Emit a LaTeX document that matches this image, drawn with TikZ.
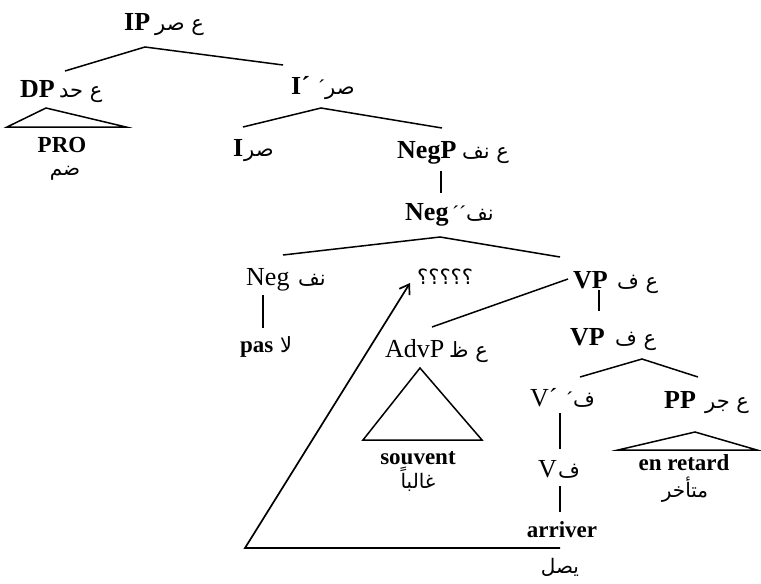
\documentclass[tikz,border=0pt]{standalone}
\usepackage{fontspec}
\setmainfont{Liberation Serif}
\newfontfamily\arabicfont[Script=Arabic]{DejaVu Sans}
\TeXXeTstate=1
\usetikzlibrary{arrows.meta}
\newcommand{\arb}[1]{{\arabicfont\beginR #1\endR}}
\begin{document}
\begin{tikzpicture}[x=1pt,y=-1pt,
  lat/.style={inner sep=0pt,anchor=base west,font=\fontsize{26}{30}\selectfont\bfseries},
  latr/.style={inner sep=0pt,anchor=base west,font=\fontsize{26}{30}\selectfont},
  wrd/.style={inner sep=0pt,anchor=base,font=\fontsize{23}{26}\selectfont\bfseries},
  ara/.style={inner sep=0pt,anchor=base west,font=\fontsize{21}{24}\selectfont},
  arw/.style={inner sep=0pt,anchor=base,font=\fontsize{20}{24}\selectfont},
  br/.style={line width=1.5pt,line join=miter},
  tri/.style={line width=1.5pt,line join=miter}]
\useasboundingbox[fill=white] (0,0) rectangle (761,584);
% labels
\node[lat] (IP) at (124,30) {IP};
\node[ara] (IPa) at (155,30) {\arb{ع صر}};
\node[lat] (DP) at (20,97) {DP};
\node[ara] (DPa) at (59,97) {\arb{ع حد}};
\node[wrd] (PRO) at (62,152) {PRO};
\node[arw] (PROa) at (65,175) {\arb{ضم}};
\node[lat] (Ib) at (291,94) {I´};
\node[ara] (Iba) at (318,94) {´\arb{صر}};
\node[lat] (I) at (233,156) {I};
\node[ara] (Ia) at (244,156) {\arb{صر}};
\node[lat] (NegP) at (397,158) {NegP};
\node[ara] (NegPa) at (462,158) {\arb{ع نف}};
\node[lat] (Negbb) at (405,220) {Neg};
\node[ara] (Negbba) at (452,220) {´´\arb{نف}};
\node[latr] (Neg) at (246,285) {Neg};
\node[ara] (Nega) at (298,285) {\arb{نف}};
\node[wrd,anchor=base west] (pas) at (240,352) {pas};
\node[ara] (pasa) at (280,352) {\arb{لا}};
\node[ara] (Q) at (417,284) {\arb{؟؟؟؟؟}};
\node[lat] (VP) at (573,288) {VP};
\node[ara] (VPa) at (617,288) {\arb{ع ف}};
\node[lat] (VPb) at (570,345) {VP};
\node[ara] (VPba) at (615,345) {\arb{ع ف}};
\node[latr] (AdvP) at (385,357) {AdvP};
\node[ara] (AdvPa) at (449,357) {\arb{ع ظ}};
\node[wrd] (souv) at (418,464) {souvent};
\node[arw] (souva) at (418,488) {\arb{غالباً}};
\node[latr] (Vb) at (530,406) {V´};
\node[ara] (Vba) at (566,406) {´\arb{ف}};
\node[latr] (V) at (538,477) {V};
\node[ara] (Va) at (558,477) {\arb{ف}};
\node[wrd] (arr) at (562,537) {arriver};
\node[arw] (arra) at (560,573) {\arb{يصل}};
\node[lat] (PP) at (664,408) {PP};
\node[ara] (PPa) at (705,408) {\arb{ع جر}};
\node[wrd] (enr) at (684,470) {en retard};
\node[arw] (enra) at (685,497) {\arb{متأخر}};
% branch points
\coordinate (ipL) at (65,71); \coordinate (ipA) at (145,47); \coordinate (ipR) at (283,65);
\coordinate (dpA) at (46,108); \coordinate (dpL) at (7,127); \coordinate (dpR) at (126,127);
\coordinate (ibL) at (243,127); \coordinate (ibA) at (321,108); \coordinate (ibR) at (442,128);
\coordinate (negpT) at (441,171); \coordinate (negpB) at (441,193);
\coordinate (nbL) at (283,255); \coordinate (nbA) at (440,237); \coordinate (nbR) at (560,257);
\coordinate (negT) at (263,295); \coordinate (negB) at (263,328);
\coordinate (vpL) at (568,279); \coordinate (advT) at (432,327);
\coordinate (vpT) at (599,290); \coordinate (vpB) at (599,311);
\coordinate (vbL) at (580,377); \coordinate (vbA) at (642,359); \coordinate (vbR) at (698,377);
\coordinate (adA) at (420,368); \coordinate (adL) at (363,440); \coordinate (adR) at (482,440);
\coordinate (vT) at (560,413); \coordinate (vB) at (560,449);
\coordinate (aT) at (560,486); \coordinate (aB) at (560,512);
\coordinate (ppA) at (695,432); \coordinate (ppL) at (618,450); \coordinate (ppR) at (757,450);
\coordinate (mvS) at (560,548); \coordinate (mvC) at (245,548); \coordinate (mvE) at (410,283);
% connectors
\draw[br] (ipL) -- (ipA) -- (ipR);
\draw[tri] (dpA) -- (dpL) -- (dpR) -- cycle;
\draw[br] (ibL) -- (ibA) -- (ibR);
\draw[br] (negpT) -- (negpB);
\draw[br] (nbL) -- (nbA) -- (nbR);
\draw[br] (negT) -- (negB);
\draw[br] (vpL) -- (advT);
\draw[br] (vpT) -- (vpB);
\draw[br] (vbL) -- (vbA) -- (vbR);
\draw[tri] (adA) -- (adL) -- (adR) -- cycle;
\draw[br] (vT) -- (vB);
\draw[br] (aT) -- (aB);
\draw[tri] (ppA) -- (ppL) -- (ppR) -- cycle;
\draw[line width=1.7pt,line join=miter,-{Straight Barb[length=9pt,width=12pt,line width=1.7pt]}] (mvS) -- (mvC) -- (mvE);
\end{tikzpicture}
\end{document}
